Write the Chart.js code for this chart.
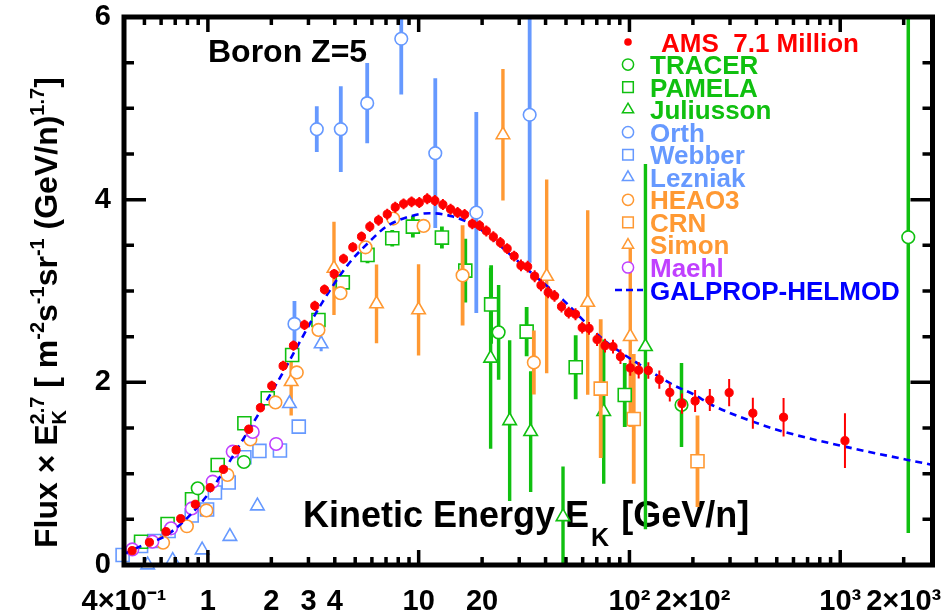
<!DOCTYPE html>
<html><head><meta charset="utf-8">
<script src="https://cdn.jsdelivr.net/npm/chart.js@4.4.1/dist/chart.umd.min.js"></script>
<style>html,body{margin:0;padding:0;background:#fff}#wrap{width:947px;height:616px}</style>
</head><body><div id="wrap"><canvas id="c" width="947" height="616"></canvas></div>
<script>
// ---------------- data ----------------
const amsE = [0.437,0.528,0.633,0.743,0.872,1.024,1.185,1.361,1.562,1.775,2.009,2.275,2.547,2.872,3.215,3.574,3.974,4.400,4.871,5.356,5.866,6.450,7.095,7.742,8.479,9.254,10.07,10.98,11.94,13.03,14.17,15.30,16.52,17.97,19.46,20.94,22.61,24.41,26.29,28.38,30.57,32.89,35.51,38.05,41.16,44.10,47.61,51.50,55.48,59.69,64.31,70.20,76.58,83.56,90.65,100.9,110.6,122.9,138.6,155.4,177.5,204.9,240.6,297.2,385.0,538.5,1053];
const amsF = [0.157,0.249,0.365,0.507,0.665,0.847,1.048,1.260,1.486,1.722,1.961,2.180,2.402,2.629,2.837,3.016,3.187,3.352,3.480,3.596,3.705,3.775,3.841,3.918,3.954,3.976,3.968,4.009,3.990,3.946,3.896,3.859,3.837,3.735,3.716,3.658,3.593,3.530,3.464,3.382,3.280,3.267,3.162,3.063,2.985,2.946,2.829,2.763,2.746,2.599,2.590,2.469,2.402,2.391,2.281,2.158,2.133,2.130,2.030,1.889,1.767,1.796,1.807,1.887,1.662,1.618,1.361];
const amsErr = [0.03,0.03,0.035,0.035,0.04,0.04,0.045,0.045,0.05,0.05,0.055,0.055,0.055,0.055,0.055,0.055,0.055,0.055,0.055,0.055,0.06,0.06,0.06,0.06,0.06,0.06,0.06,0.06,0.06,0.06,0.06,0.06,0.06,0.06,0.06,0.06,0.06,0.06,0.06,0.06,0.065,0.065,0.065,0.065,0.065,0.065,0.065,0.065,0.065,0.065,0.07,0.07,0.075,0.075,0.08,0.085,0.09,0.09,0.1,0.1,0.11,0.12,0.12,0.15,0.17,0.21,0.3];

const tracerE = [0.895,1.482,23.95,176.6,2103];
const tracerF = [0.840,1.128,2.547,1.752,3.589];
const tracerErr = [0,0,0.52,0.46,3.24];

const pamelaE = [0.482,0.644,0.841,1.113,1.490,1.923,2.511,3.347,4.366,5.720,7.494,9.386,12.89,16.64,22.07,32.53,55.59,94.99];
const pamelaF = [0.255,0.449,0.720,1.095,1.552,1.826,2.300,2.683,3.094,3.395,3.578,3.705,3.585,3.223,2.853,2.555,2.165,1.862];
const pamelaErr = [0.02,0.02,0.02,0.03,0.04,0.04,0.05,0.05,0.08,0.09,0.09,0.12,0.12,0.35,0.43,0.27,0.35,0.35];

const juliussonE = [21.95,27.02,33.99,48.4,75.5,119.1];
const juliussonF = [2.264,1.580,1.460,0.529,1.679,2.391];
const juliussonErr = [0.99,0.88,0.66,0.55,0.79,2.0];

const orthE = [2.575,3.286,4.272,5.700,8.269,11.99,18.77,33.62];
const orthF = [2.640,4.772,4.772,5.057,5.761,4.509,3.859,4.929];
const orthErr = [0.25,0.25,0.47,0.44,0.61,0.82,1.1,1.62];

const webberE = [0.394,0.482,0.557,0.651,0.838,0.991,1.080,1.255,1.490,1.756,2.197,2.699];
const webberF = [0.110,0.208,0.263,0.372,0.542,0.608,0.794,0.904,1.180,1.249,1.254,1.515];
const webberErr = [0,0,0,0,0,0,0,0,0,0,0,0.06];

const lezniakE = [0.518,0.681,0.939,1.272,1.718,2.438,3.447];
const lezniakF = [0.0,0.049,0.164,0.312,0.646,1.767,2.421];
const lezniakErr = [0,0,0,0,0,0,0.08];

const heao3E = [0.613,0.795,0.984,1.238,1.591,2.091,2.641,3.347,4.257,5.596,7.577,10.55,16.16,35.19];
const heao3F = [0.244,0.424,0.597,0.986,1.375,1.780,2.108,2.574,2.976,3.478,3.793,3.713,3.171,2.218];
const heao3Err = [0,0,0,0,0,0,0,0,0,0,0,0.04,0.55,0.35];

const crnE = [73.07,104.8,210.3];
const crnF = [1.931,1.599,1.136];
const crnErr = [0.76,0.71,0.5];

const simonE = [2.484,3.965,6.311,9.989,25.11,40.49,63.39,100.9];
const simonF = [2.008,3.248,2.859,2.793,4.710,3.160,2.875,2.501];
const simonErr = [0.37,0.51,0.43,0.50,0.72,1.06,1.01,0.99];

const maehlE = [0.438,0.545,0.669,0.839,1.054,1.312,1.632,2.108];
const maehlF = [0.170,0.255,0.402,0.619,0.912,1.241,1.457,1.325];

const galpropE = [0.4,0.456,0.657,0.981,1.463,2.145,3.509,4.611,5.847,7.018,9.052,11.27,14.54,18.77,21.71,25.11,35,48.4,72.3,89.9,116,161,204,242,385,538,1053,2740];
const galpropF = [0.12,0.183,0.347,0.748,1.369,2.008,2.884,3.286,3.541,3.705,3.815,3.852,3.815,3.705,3.596,3.469,3.18,2.903,2.501,2.336,2.172,1.972,1.862,1.76,1.57,1.46,1.296,1.095];

// ticks
const xLabelTicks = [0.4,1,2,3,4,10,20,100,200,1000,2000];
const xTickLabels = ['4×10⁻¹','1','2','3','4','10','20','10²','2×10²','10³','2×10³'];
const xMajorTicks = [1,10,100,1000];
const xMinorTicks = [0.5,0.6,0.7,0.8,0.9,5,6,7,8,9,30,40,50,60,70,80,90,300,400,500,600,700,800,900];
const yLabelTicks = [0,2,4,6];
const yMinorTicks = [0.5,1,1.5,2.5,3,3.5,4.5,5,5.5];

const legendNames = ['AMS  7.1 Million','TRACER','PAMELA','Juliusson','Orth','Webber','Lezniak','HEAO3','CRN','Simon','Maehl','GALPROP-HELMOD'];

// ---------------- styles ----------------
const RED = '#ff0000', GREEN = '#10c010', LBLUE = '#6699ff', ORANGE = '#ff9933', PURPLE = '#c040ff', BLUE = '#0000ff';
const FAM = '"Liberation Sans", Arial, Helvetica, sans-serif';
const fnt = (s) => 'bold ' + s + 'px ' + FAM;
const pts = (E, F) => E.map((e, i) => ({x: e, y: F[i]}));

function openDs(label, E, F, err, color, style, radius, errWidth) {
  return {label, data: pts(E, F), errY: err, errColor: color, errWidth: errWidth,
    pointStyle: style, pointRadius: radius, pointHoverRadius: radius,
    pointBackgroundColor: '#ffffff', pointBorderColor: color, pointBorderWidth: 1.6,
    showLine: false, clip: 12};
}

const datasets = [
  {label: 'AMS', data: pts(amsE, amsF), errY: amsErr, errColor: RED, errWidth: 2,
   pointStyle: 'circle', pointRadius: 4.1, pointHoverRadius: 4.1, pointBackgroundColor: RED,
   pointBorderColor: RED, pointBorderWidth: 1, showLine: false, clip: 12},
  {label: 'GALPROP-HELMOD', type: 'line', data: pts(galpropE, galpropF), borderColor: BLUE,
   borderWidth: 2.6, borderDash: [7, 5], pointRadius: 0, showLine: true, fill: false,
   cubicInterpolationMode: 'monotone'},
  openDs('TRACER', tracerE, tracerF, tracerErr, GREEN, 'circle', 6.3, 3.5),
  openDs('Orth', orthE, orthF, orthErr, LBLUE, 'circle', 6.3, 3.8),
  openDs('Maehl', maehlE, maehlF, null, PURPLE, 'circle', 6.3, 3),
  openDs('HEAO3', heao3E, heao3F, heao3Err, ORANGE, 'circle', 6.3, 3.8),
  openDs('PAMELA', pamelaE, pamelaF, pamelaErr, GREEN, 'rect', 9.2, 3.8),
  openDs('Webber', webberE, webberF, webberErr, LBLUE, 'rect', 9.2, 3),
  openDs('CRN', crnE, crnF, crnErr, ORANGE, 'rect', 9.2, 3.8),
  openDs('Juliusson', juliussonE, juliussonF, juliussonErr, GREEN, 'triangle', 7.8, 3.4),
  openDs('Lezniak', lezniakE, lezniakF, lezniakErr, LBLUE, 'triangle', 7.8, 3),
  openDs('Simon', simonE, simonF, simonErr, ORANGE, 'triangle', 7.8, 3.4),
];

const legendColors = [RED, GREEN, GREEN, GREEN, LBLUE, LBLUE, LBLUE, ORANGE, ORANGE, ORANGE, PURPLE, BLUE];
const legendStyles = ['dot','circle','rect','triangle','circle','rect','triangle','circle','rect','triangle','circle','dash'];

// ---------------- helpers ----------------
function marker(ctx, style, x, y, r, color) {
  ctx.save();
  ctx.lineWidth = 1.5; ctx.strokeStyle = color; ctx.fillStyle = '#fff';
  ctx.beginPath();
  if (style === 'dot') { ctx.fillStyle = color; ctx.arc(x, y, 3.8, 0, Math.PI * 2); ctx.fill(); }
  else if (style === 'circle') { ctx.arc(x, y, r, 0, Math.PI * 2); ctx.fill(); ctx.stroke(); }
  else if (style === 'rect') { ctx.rect(x - r, y - r, 2 * r, 2 * r); ctx.fill(); ctx.stroke(); }
  else if (style === 'triangle') { const h = r * 1.15; ctx.moveTo(x, y - h); ctx.lineTo(x + h * 0.87, y + h * 0.5); ctx.lineTo(x - h * 0.87, y + h * 0.5); ctx.closePath(); ctx.fill(); ctx.stroke(); }
  else if (style === 'dash') { ctx.lineWidth = 2.6; ctx.setLineDash([7, 4]); ctx.moveTo(x - 13, y); ctx.lineTo(x + 15, y); ctx.stroke(); }
  ctx.restore();
}

function rich(ctx, parts, size, ratio) {
  let cx = 0; const small = Math.round(size * ratio);
  for (const p of parts) {
    if (p.n !== undefined) { ctx.font = fnt(size); ctx.fillText(p.n, cx, 0); cx += ctx.measureText(p.n).width; }
    else {
      ctx.font = fnt(small); let w = 0;
      if (p.sup !== undefined) { ctx.fillText(p.sup, cx, -size * 0.42); w = Math.max(w, ctx.measureText(p.sup).width); }
      if (p.sub !== undefined) { ctx.fillText(p.sub, cx, size * 0.28); w = Math.max(w, ctx.measureText(p.sub).width); }
      cx += w;
    }
  }
  return cx;
}

const errPlugin = {
  id: 'errbars',
  beforeDatasetDraw(chart, args) {
    const ds = chart.data.datasets[args.index];
    if (!ds.errY) return;
    const {ctx, chartArea: a, scales: {x, y}} = chart;
    ctx.save();
    ctx.beginPath(); ctx.rect(a.left, a.top, a.right - a.left, a.bottom - a.top); ctx.clip();
    ctx.strokeStyle = ds.errColor; ctx.lineWidth = ds.errWidth;
    ds.data.forEach((p, i) => {
      const e = ds.errY[i]; if (!e) return;
      const px = x.getPixelForValue(p.x);
      ctx.beginPath(); ctx.moveTo(px, y.getPixelForValue(p.y - e)); ctx.lineTo(px, y.getPixelForValue(p.y + e)); ctx.stroke();
    });
    ctx.restore();
  }
};

const decorPlugin = {
  id: 'decor',
  beforeDatasetsDraw(chart) {
    const ctx = chart.ctx;
    ctx.save(); ctx.fillStyle = '#000'; ctx.textBaseline = 'alphabetic';
    ctx.font = fnt(36);
    const main = 'Kinetic Energy E';
    ctx.fillText(main, 303, 527);
    const w = ctx.measureText(main).width;
    ctx.font = fnt(25); ctx.fillText('K', 303 + w + 2, 546);
    const wk = ctx.measureText('K').width;
    ctx.font = fnt(36); ctx.fillText('[GeV/n]', 303 + w + wk + 14, 527);
    ctx.restore();
  },
  afterDatasetsDraw(chart) {
    const {ctx, chartArea: a, scales: {x, y}} = chart;
    ctx.save();
    ctx.strokeStyle = '#000'; ctx.lineWidth = 3.5;
    x.ticks.forEach(t => {
      const v = t.value; const px = x.getPixelForValue(v);
      if (px < a.left + 2 || px > a.right - 2) return;
      const len = xMajorTicks.includes(v) ? 15 : 8;
      ctx.beginPath(); ctx.moveTo(px, a.bottom); ctx.lineTo(px, a.bottom - len);
      ctx.moveTo(px, a.top); ctx.lineTo(px, a.top + len); ctx.stroke();
    });
    y.ticks.forEach(t => {
      const v = t.value; const py = y.getPixelForValue(v);
      if (py < a.top + 2 || py > a.bottom - 2) return;
      const len = yLabelTicks.includes(v) ? 22 : 10;
      ctx.beginPath(); ctx.moveTo(a.left, py); ctx.lineTo(a.left + len, py);
      ctx.moveTo(a.right, py); ctx.lineTo(a.right - len, py); ctx.stroke();
    });
    ctx.lineWidth = 5;
    ctx.strokeRect(a.left, a.top, a.right - a.left, a.bottom - a.top);
    // label
    ctx.fillStyle = '#000'; ctx.font = fnt(32); ctx.textBaseline = 'alphabetic';
    ctx.fillText('Boron Z=5', 208, 62);
    // legend
    ctx.font = fnt(26);
    legendNames.forEach((name, i) => {
      const cy = 42 + i * 22.55;
      marker(ctx, legendStyles[i], 628, cy, legendStyles[i] === 'rect' ? 5.3 : 5.6, legendColors[i]);
      ctx.fillStyle = legendColors[i];
      ctx.fillText(name, i === 0 ? 661 : 650, cy + 9.5);
    });
    ctx.restore();
  },
  afterDraw(chart) {
    const ctx = chart.ctx;
    ctx.save(); ctx.fillStyle = '#000'; ctx.textBaseline = 'alphabetic';
    ctx.translate(57, 548); ctx.rotate(-Math.PI / 2);
    rich(ctx, [{n: 'Flux × E'}, {sub: 'K', sup: '2.7'}, {n: ' [ m'}, {sup: '-2'}, {n: 's'}, {sup: '-1'},
      {n: 'sr'}, {sup: '-1'}, {n: ' (GeV/n)'}, {sup: '1.7'}, {n: ']'}], 32, 0.62);
    ctx.restore();
  }
};

const xAllTicks = [...xLabelTicks, ...xMinorTicks].sort((a, b) => a - b);
const yAllTicks = [...yLabelTicks, ...yMinorTicks].sort((a, b) => a - b);

new Chart(document.getElementById('c'), {
  type: 'scatter',
  data: {datasets},
  options: {
    responsive: false, animation: false, devicePixelRatio: 1,
    layout: {padding: {left: 0, top: 17, right: 14.5, bottom: 0}},
    plugins: {legend: {display: false}, tooltip: {enabled: false}},
    scales: {
      x: {
        type: 'logarithmic', position: 'bottom', min: 0.4, max: 2740, bounds: 'data',
        grid: {display: false}, border: {display: false},
        ticks: {autoSkip: false, maxRotation: 0, minRotation: 0, color: '#000', padding: 12,
          font: {family: FAM, size: 29, weight: 'bold'},
          callback: (v) => { const i = xLabelTicks.findIndex(t => Math.abs(t - v) / t < 1e-6); return i >= 0 ? xTickLabels[i] : ''; }},
        afterBuildTicks: (s) => { s.ticks = xAllTicks.map(v => ({value: v})); },
        afterFit: (s) => { s.height = 51; s.paddingLeft = 0; s.paddingRight = 0; }
      },
      y: {
        type: 'linear', position: 'left', min: 0, max: 6,
        grid: {display: false, drawTicks: false}, border: {display: false},
        ticks: {color: '#000', padding: 13, font: {family: FAM, size: 29, weight: 'bold'},
          callback: (v) => yLabelTicks.includes(v) ? String(v) : ''},
        afterBuildTicks: (s) => { s.ticks = yAllTicks.map(v => ({value: v})); },
        afterFit: (s) => { s.width = 124; s.paddingTop = 0; s.paddingBottom = 0; }
      }
    }
  },
  plugins: [errPlugin, decorPlugin]
});
</script></body></html>
